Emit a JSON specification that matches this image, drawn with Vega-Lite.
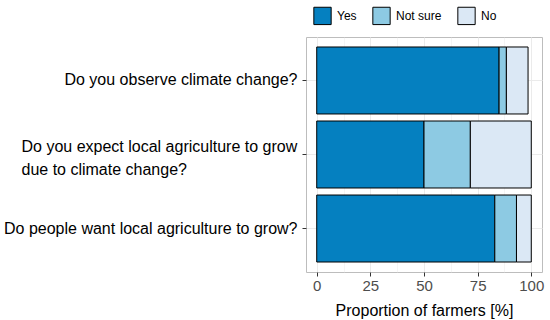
{
  "$schema": "https://vega.github.io/schema/vega-lite/v6.json",
  "width": 236,
  "height": 235,
  "autosize": {"type": "none"},
  "padding": {"left": 306, "top": 37, "right": 8, "bottom": 48},
  "background": "white",
  "config": {
    "font": "Liberation Sans",
    "view": {"stroke": "#bdbdbd", "strokeWidth": 1}
  },
  "data": {
    "values": [
      {"question": "Do you observe climate change?", "qi": 1, "answer": "Yes", "ai": 1, "percent": 85},
      {"question": "Do you observe climate change?", "qi": 1, "answer": "Not sure", "ai": 2, "percent": 3.4},
      {"question": "Do you observe climate change?", "qi": 1, "answer": "No", "ai": 3, "percent": 10.1},
      {"question": "Do you expect local agriculture to grow\ndue to climate change?", "qi": 2, "answer": "Yes", "ai": 1, "percent": 50},
      {"question": "Do you expect local agriculture to grow\ndue to climate change?", "qi": 2, "answer": "Not sure", "ai": 2, "percent": 21.6},
      {"question": "Do you expect local agriculture to grow\ndue to climate change?", "qi": 2, "answer": "No", "ai": 3, "percent": 28.4},
      {"question": "Do people want local agriculture to grow?", "qi": 3, "answer": "Yes", "ai": 1, "percent": 83},
      {"question": "Do people want local agriculture to grow?", "qi": 3, "answer": "Not sure", "ai": 2, "percent": 10.1},
      {"question": "Do people want local agriculture to grow?", "qi": 3, "answer": "No", "ai": 3, "percent": 6.9}
    ]
  },
  "mark": {"type": "bar", "stroke": "black", "strokeWidth": 1},
  "encoding": {
    "y": {
      "field": "question",
      "type": "nominal",
      "sort": {"field": "qi", "op": "min"},
      "scale": {"paddingInner": 0.095, "paddingOuter": 0.135},
      "axis": {
        "title": null,
        "domain": false,
        "bandPosition": 0.5,
        "grid": true,
        "gridColor": "#ebebeb",
        "gridWidth": 1,
        "tickColor": "#333333",
        "tickSize": 4,
        "labelFontSize": 16,
        "labelColor": "#000000",
        "labelLimit": 400,
        "labelLineHeight": 23,
        "labelExpr": "split(datum.label, '\\n')",
        "labelAlign": {"condition": {"test": "indexof(datum.value, 'expect') >= 0", "value": "left"}, "value": "right"},
        "labelPadding": {"condition": {"test": "indexof(datum.value, 'expect') >= 0", "value": 281}, "value": 5},
        "labelOffset": {"condition": {"test": "indexof(datum.value, 'expect') >= 0", "value": -8}, "value": 0}
      }
    },
    "x": {
      "field": "percent",
      "type": "quantitative",
      "stack": "zero",
      "scale": {"domain": [-5, 105], "nice": false, "zero": false},
      "axis": {
        "title": "Proportion of farmers [%]",
        "titleFontSize": 16,
        "titleFontWeight": "normal",
        "titleColor": "#000000",
        "titlePadding": 9,
        "domain": false,
        "values": [0, 12.5, 25, 37.5, 50, 62.5, 75, 87.5, 100],
        "labelExpr": "datum.value % 25 === 0 ? datum.label : ''",
        "labelFontSize": 15,
        "labelColor": "#4d4d4d",
        "labelPadding": 2,
        "tickColor": "#333333",
        "tickSize": 4,
        "tickOpacity": {"condition": {"test": "datum.value % 25 === 0", "value": 1}, "value": 0},
        "grid": true,
        "gridColor": "#ebebeb",
        "gridWidth": {"condition": {"test": "datum.value % 25 === 0", "value": 1}, "value": 0.5}
      }
    },
    "color": {
      "field": "answer",
      "type": "nominal",
      "scale": {"domain": ["Yes", "Not sure", "No"], "range": ["#0580c0", "#8dcae3", "#dbe8f5"]},
      "legend": {
        "title": null,
        "orient": "none",
        "legendX": 7,
        "legendY": -31,
        "direction": "horizontal",
        "padding": 0,
        "symbolType": "square",
        "symbolSize": 300,
        "symbolStrokeColor": "#000000",
        "symbolStrokeWidth": 1,
        "symbolOpacity": 1,
        "labelFontSize": 12,
        "labelColor": "#000000",
        "labelOffset": 5,
        "columnPadding": 13
      }
    },
    "order": {"field": "ai", "type": "quantitative"}
  }
}
